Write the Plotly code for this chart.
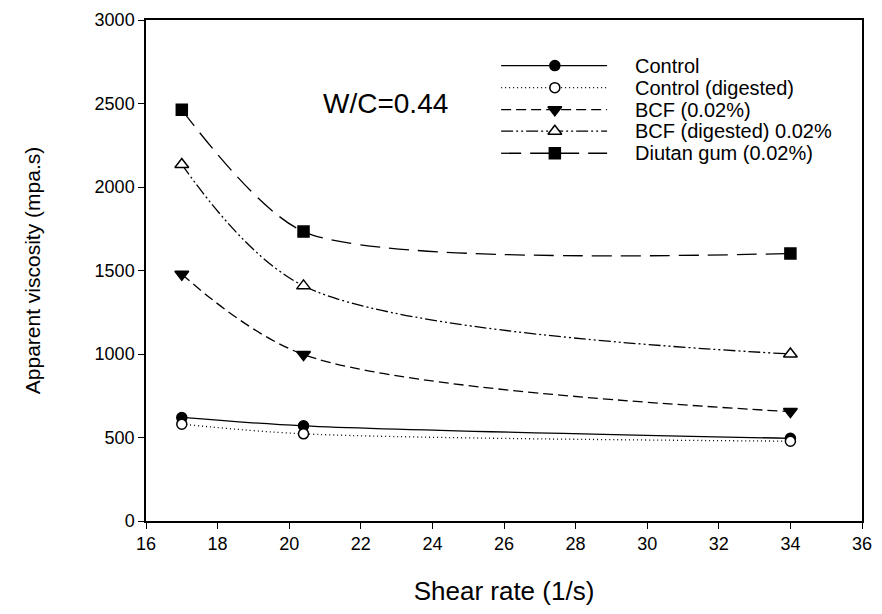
import plotly.graph_objects as go

shear_rate = [17.0, 20.4, 34.0]
series_names = ["Control", "Control (digested)", "BCF (0.02%)",
                "BCF (digested) 0.02%", "Diutan gum (0.02%)"]
control = [620, 570, 495]
control_digested = [580, 522, 478]
bcf = [1478, 997, 655]
bcf_digested = [2135, 1408, 1000]
diutan = [2462, 1733, 1602]
x_ticks = [16, 18, 20, 22, 24, 26, 28, 30, 32, 34, 36]
y_ticks = [0, 500, 1000, 1500, 2000, 2500, 3000]

values = [control, control_digested, bcf, bcf_digested, diutan]
dashes = ["solid", "1px,3px", "10px,5px", "12px,3px,2px,3px,2px,3px", "20px,9px"]
symbols = ["circle", "circle", "triangle-down", "triangle-up", "square"]
fills = ["black", "white", "black", "white", "black"]
sizes = [10, 10, 12, 12, 11]
smooth = [0.9, 0.9, 0.9, 0.9, 0.7]

FONT = "Liberation Sans, Arial, sans-serif"
fig = go.Figure()

for name, vals, dash, sm in zip(series_names, values, dashes, smooth):
    fig.add_trace(go.Scatter(
        x=shear_rate, y=vals, mode="lines", name=name, showlegend=False,
        line=dict(color="black", width=1.3, dash=dash, shape="spline", smoothing=sm)))
for name, vals, sym, fc, sz in zip(series_names, values, symbols, fills, sizes):
    fig.add_trace(go.Scatter(
        x=shear_rate, y=vals, mode="markers", name=name, showlegend=False,
        marker=dict(symbol=sym, size=sz, color=fc,
                    line=dict(color="black", width=1.5))))

# hand-drawn legend in an overlay axis spanning the plot area (0..1)
row_y = [0.909, 0.865, 0.821, 0.778, 0.734]
lx0, lx1, lxm, tx = 0.496, 0.644, 0.571, 0.680
for i, (name, dash, sym, fc, sz) in enumerate(zip(series_names, dashes, symbols, fills, sizes)):
    fig.add_trace(go.Scatter(
        x=[lx0, lx1], y=[row_y[i], row_y[i]], mode="lines", xaxis="x2", yaxis="y2",
        showlegend=False, hoverinfo="skip",
        line=dict(color="black", width=1.3, dash=dash)))
    fig.add_trace(go.Scatter(
        x=[lxm], y=[row_y[i]], mode="markers", xaxis="x2", yaxis="y2",
        showlegend=False, hoverinfo="skip",
        marker=dict(symbol=sym, size=sz, color=fc,
                    line=dict(color="black", width=1.5))))
    fig.add_annotation(x=tx, y=row_y[i], xref="x2", yref="y2", text=name,
                       showarrow=False, xanchor="left", yanchor="middle",
                       font=dict(family=FONT, size=20, color="black"))

fig.add_annotation(x=0.244, y=0.834, xref="x2", yref="y2", text="W/C=0.44",
                   showarrow=False, xanchor="left", yanchor="middle",
                   font=dict(family=FONT, size=28, color="black"))

fig.update_layout(
    width=882, height=614,
    margin=dict(l=146, r=10, t=13, b=93),
    paper_bgcolor="white", plot_bgcolor="white",
    font=dict(family=FONT, color="black"),
    xaxis=dict(range=[16, 36], tickvals=x_ticks, ticks="outside", ticklen=6,
               tickwidth=1.3, tickcolor="black", showline=True, linecolor="black",
               linewidth=1.5, mirror=True, showgrid=False, zeroline=False,
               tickfont=dict(size=18, family=FONT),
               title=dict(text="Shear rate (1/s)", font=dict(size=26, family=FONT),
                          standoff=28)),
    yaxis=dict(range=[0, 3000], tickvals=y_ticks, ticks="outside", ticklen=6,
               tickwidth=1.3, tickcolor="black", showline=True, linecolor="black",
               linewidth=1.5, mirror=True, showgrid=False, zeroline=False,
               tickfont=dict(size=18, family=FONT),
               title=dict(text="Apparent viscosity (mpa.s)", font=dict(size=21, family=FONT),
                          standoff=48)),
    xaxis2=dict(range=[0, 1], overlaying="x", visible=False, fixedrange=True),
    yaxis2=dict(range=[0, 1], overlaying="y", visible=False, fixedrange=True),
)

fig.write_html("out.html", config={"displayModeBar": False},
               post_script="document.body.style.margin='0';document.body.style.overflow='hidden';")
